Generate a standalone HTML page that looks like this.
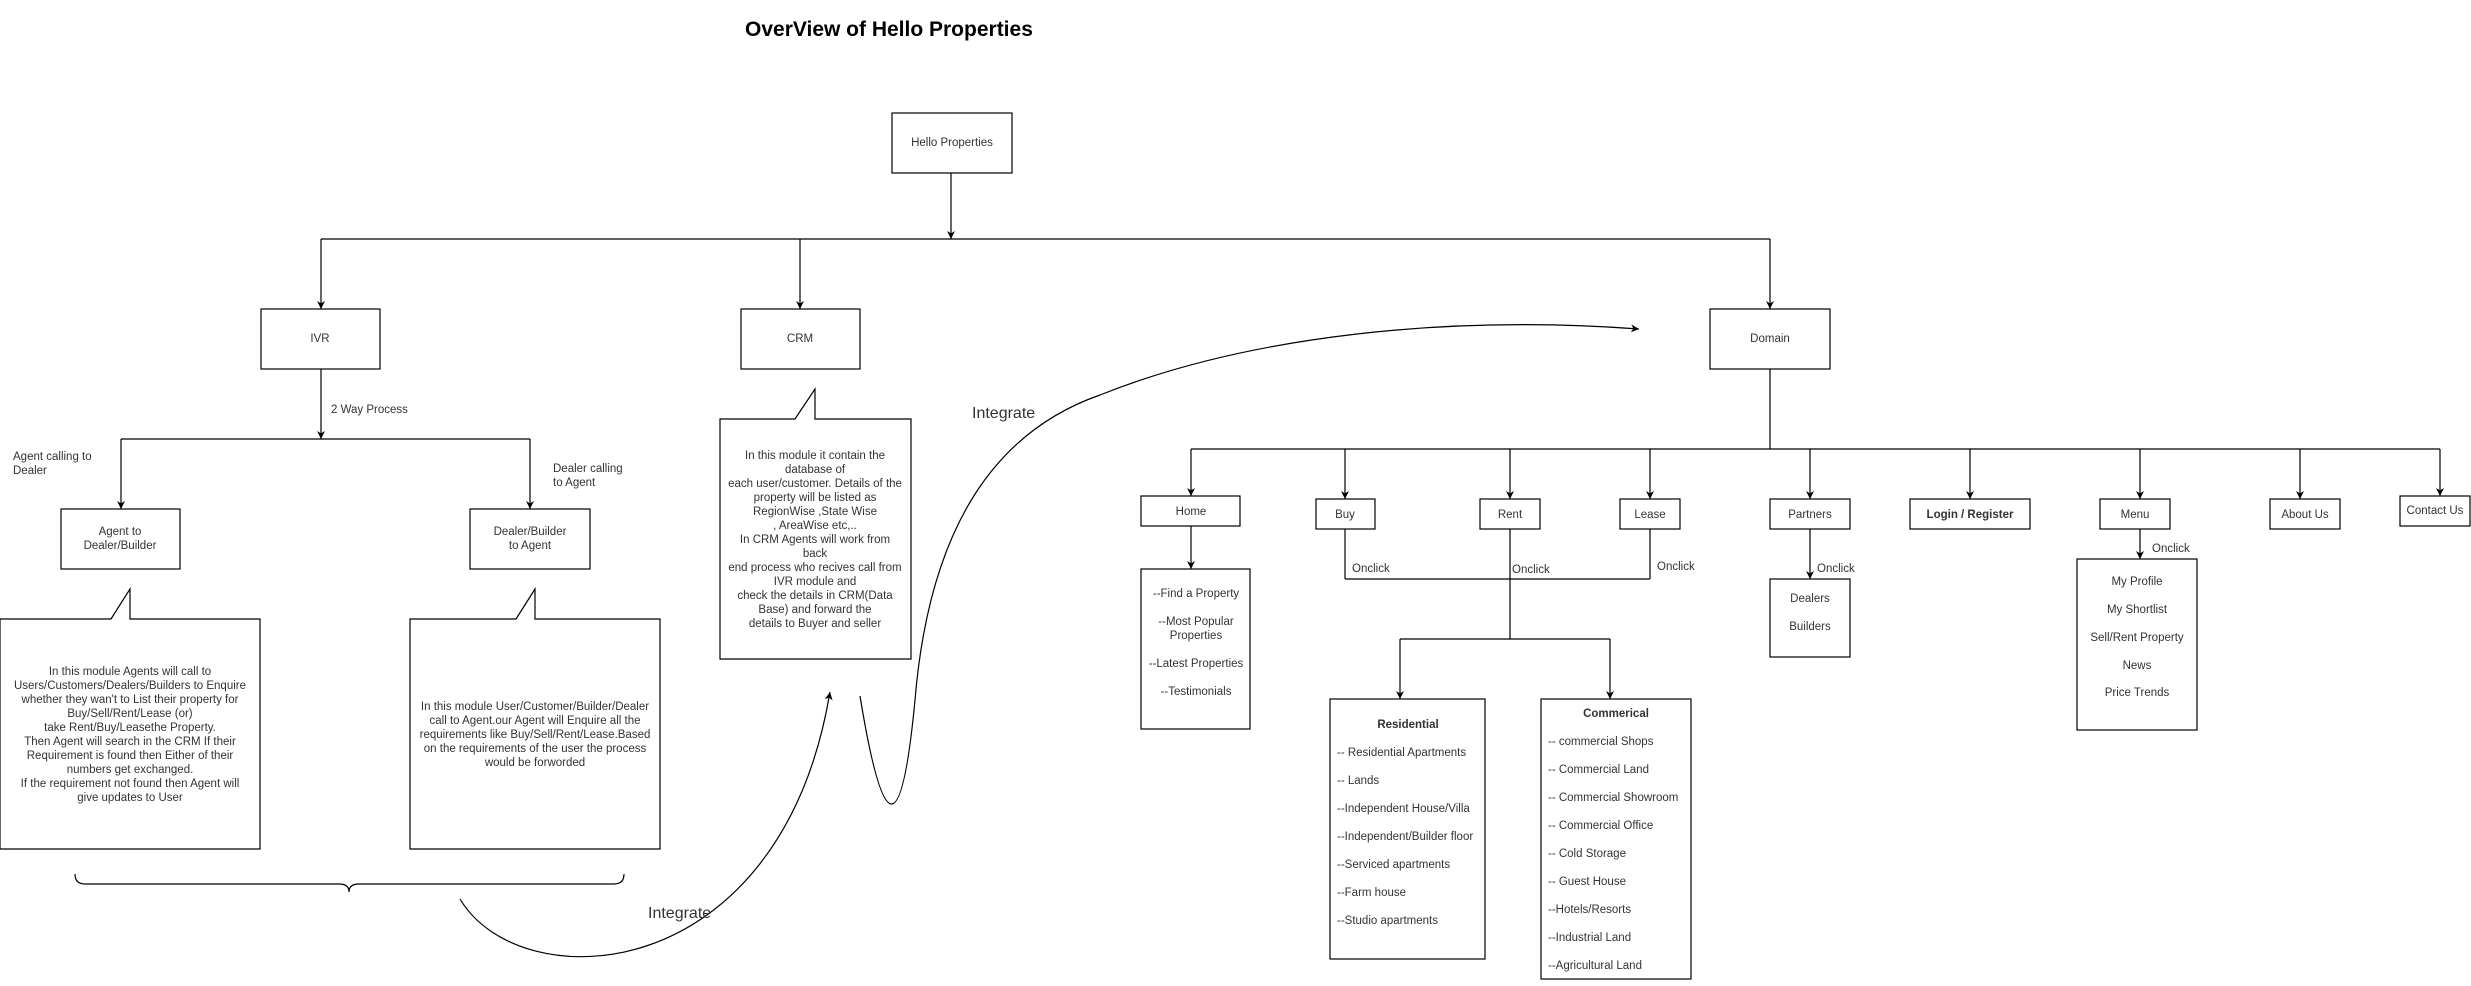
<!DOCTYPE html>
<html><head><meta charset="utf-8"><style>
html,body{margin:0;padding:0;background:#fff;}
svg{display:block;}
text{font-family:"Liberation Sans",Arial,sans-serif;fill:#333;}
</style></head><body>
<svg width="2471" height="986" viewBox="0 0 2471 986" xmlns="http://www.w3.org/2000/svg">
<defs>
<marker id="a" viewBox="0 0 10 10" refX="10" refY="5" markerWidth="8" markerHeight="8" markerUnits="userSpaceOnUse" orient="auto">
<path d="M0,0 L10,5 L0,10 L3,5 z" fill="#000"/>
</marker>
</defs>
<g fill="none" stroke="#000" stroke-width="1.2">
<line x1="951" y1="173" x2="951" y2="239" marker-end="url(#a)"/>
<line x1="321" y1="239" x2="1770" y2="239"/>
<line x1="321" y1="239" x2="321" y2="309" marker-end="url(#a)"/>
<line x1="800" y1="239" x2="800" y2="309" marker-end="url(#a)"/>
<line x1="1770" y1="239" x2="1770" y2="309" marker-end="url(#a)"/>
<rect x="892" y="113" width="120" height="60"/>
<rect x="261" y="309" width="119" height="60"/>
<rect x="741" y="309" width="119" height="60"/>
<rect x="1710" y="309" width="120" height="60"/>
<line x1="321" y1="369" x2="321" y2="439" marker-end="url(#a)"/>
<line x1="121" y1="439" x2="530" y2="439"/>
<line x1="121" y1="439" x2="121" y2="509" marker-end="url(#a)"/>
<line x1="530" y1="439" x2="530" y2="509" marker-end="url(#a)"/>
<rect x="61" y="509" width="119" height="60"/>
<rect x="470" y="509" width="120" height="60"/>
<path d="M0,619 L111,619 L130,589 L130,619 L260,619 L260,849 L0,849 Z"/>
<path d="M410,619 L516,619 L535,589 L535,619 L660,619 L660,849 L410,849 Z"/>
<path d="M720,419 L795,419 L815,389 L815,419 L911,419 L911,659 L720,659 Z"/>
<path d="M75,874 Q75,884 85,884 L339,884 Q349,884 349,892 Q349,884 359,884 L614,884 Q624,884 624,874"/>
<path d="M460,899 C520,1000 780,990 830,692" marker-end="url(#a)"/>
<path d="M860,696 Q895,910 915,700 C930,520 1000,430 1100,395 C1250,335 1450,315 1639,329" marker-end="url(#a)"/>
<line x1="1770" y1="369" x2="1770" y2="449"/>
<line x1="1191" y1="449" x2="2440" y2="449"/>
<line x1="1191" y1="449" x2="1191" y2="496" marker-end="url(#a)"/>
<line x1="1345" y1="449" x2="1345" y2="499" marker-end="url(#a)"/>
<line x1="1510" y1="449" x2="1510" y2="499" marker-end="url(#a)"/>
<line x1="1650" y1="449" x2="1650" y2="499" marker-end="url(#a)"/>
<line x1="1810" y1="449" x2="1810" y2="499" marker-end="url(#a)"/>
<line x1="1970" y1="449" x2="1970" y2="499" marker-end="url(#a)"/>
<line x1="2140" y1="449" x2="2140" y2="499" marker-end="url(#a)"/>
<line x1="2300" y1="449" x2="2300" y2="499" marker-end="url(#a)"/>
<line x1="2440" y1="449" x2="2440" y2="496" marker-end="url(#a)"/>
<rect x="1141" y="496" width="99" height="30"/>
<rect x="1316" y="499" width="59" height="30"/>
<rect x="1480" y="499" width="60" height="30"/>
<rect x="1620" y="499" width="60" height="30"/>
<rect x="1770" y="499" width="80" height="30"/>
<rect x="1910" y="499" width="120" height="30"/>
<rect x="2100" y="499" width="70" height="30"/>
<rect x="2270" y="499" width="70" height="30"/>
<rect x="2400" y="496" width="70" height="30"/>
<line x1="1191" y1="526" x2="1191" y2="569" marker-end="url(#a)"/>
<rect x="1141" y="569" width="109" height="160"/>
<line x1="1345" y1="529" x2="1345" y2="579"/>
<line x1="1650" y1="529" x2="1650" y2="579"/>
<line x1="1345" y1="579" x2="1650" y2="579"/>
<line x1="1510" y1="529" x2="1510" y2="639"/>
<line x1="1400" y1="639" x2="1610" y2="639"/>
<line x1="1400" y1="639" x2="1400" y2="699" marker-end="url(#a)"/>
<line x1="1610" y1="639" x2="1610" y2="699" marker-end="url(#a)"/>
<rect x="1330" y="699" width="155" height="260"/>
<rect x="1541" y="699" width="150" height="280"/>
<line x1="1810" y1="529" x2="1810" y2="579" marker-end="url(#a)"/>
<rect x="1770" y="579" width="80" height="78"/>
<line x1="2140" y1="529" x2="2140" y2="559" marker-end="url(#a)"/>
<rect x="2077" y="559" width="120" height="171"/>
</g>
<g font-size="21" font-weight="bold"><text x="745" y="36" style="fill:#000">OverView of Hello Properties</text></g>
<g font-size="16">
<text x="972" y="418">Integrate</text>
<text x="648" y="918">Integrate</text>
</g>
<g font-size="11.5" dominant-baseline="central">
<text x="331" y="410">2 Way Process</text>
<text x="13" y="457">Agent calling to</text>
<text x="13" y="471">Dealer</text>
<text x="553" y="469">Dealer calling</text>
<text x="553" y="483">to Agent</text>
<text x="1352" y="569">Onclick</text>
<text x="1512" y="570">Onclick</text>
<text x="1657" y="567">Onclick</text>
<text x="1817" y="569">Onclick</text>
<text x="2152" y="549">Onclick</text>
</g>
<g font-size="11.5" text-anchor="middle" dominant-baseline="central">
<text x="952" y="143">Hello Properties</text>
<text x="320" y="339">IVR</text>
<text x="800" y="339">CRM</text>
<text x="1770" y="339">Domain</text>
<text x="120" y="532">Agent to</text>
<text x="120" y="546">Dealer/Builder</text>
<text x="530" y="532">Dealer/Builder</text>
<text x="530" y="546">to Agent</text>
<text x="130" y="672">In this module Agents will call to</text>
<text x="130" y="686">Users/Customers/Dealers/Builders to Enquire</text>
<text x="130" y="700">whether they wan't to  List their property for</text>
<text x="130" y="714">Buy/Sell/Rent/Lease (or)</text>
<text x="130" y="728">take Rent/Buy/Leasethe Property.</text>
<text x="130" y="742">Then  Agent will search in the CRM If their</text>
<text x="130" y="756">Requirement is found then  Either of their</text>
<text x="130" y="770">numbers get exchanged.</text>
<text x="130" y="784">If the requirement not found then Agent will</text>
<text x="130" y="798">give updates to User</text>
<text x="535" y="707">In this module User/Customer/Builder/Dealer</text>
<text x="535" y="721">call to Agent.our Agent will Enquire all the</text>
<text x="535" y="735">requirements like Buy/Sell/Rent/Lease.Based</text>
<text x="535" y="749">on the requirements of the user the process</text>
<text x="535" y="763">would be forworded</text>
<text x="815" y="456">In this module it contain the</text>
<text x="815" y="470">database of</text>
<text x="815" y="484">each user/customer. Details of the</text>
<text x="815" y="498">property will be listed as</text>
<text x="815" y="512">RegionWise ,State Wise</text>
<text x="815" y="526">, AreaWise etc,..</text>
<text x="815" y="540">In CRM Agents will work from</text>
<text x="815" y="554">back</text>
<text x="815" y="568">end process who recives call from</text>
<text x="815" y="582">IVR module and</text>
<text x="815" y="596">check the details in CRM(Data</text>
<text x="815" y="610">Base) and forward the</text>
<text x="815" y="624">details to Buyer and seller</text>
<text x="1191" y="512">Home</text>
<text x="1345" y="515">Buy</text>
<text x="1510" y="515">Rent</text>
<text x="1650" y="515">Lease</text>
<text x="1810" y="515">Partners</text>
<text x="1970" y="515" font-weight="bold">Login / Register</text>
<text x="2135" y="515">Menu</text>
<text x="2305" y="515">About Us</text>
<text x="2435" y="511">Contact Us</text>
<text x="1196" y="594">--Find a Property</text>
<text x="1196" y="622">--Most Popular</text>
<text x="1196" y="636">Properties</text>
<text x="1196" y="664">--Latest Properties</text>
<text x="1196" y="692">--Testimonials</text>
<text x="1810" y="599">Dealers</text>
<text x="1810" y="627">Builders</text>
<text x="2137" y="582">My Profile</text>
<text x="2137" y="610">My Shortlist</text>
<text x="2137" y="638">Sell/Rent Property</text>
<text x="2137" y="666">News</text>
<text x="2137" y="693">Price Trends</text>
<text x="1408" y="725" font-weight="bold">Residential</text>
<text x="1616" y="714" font-weight="bold">Commerical</text>
</g>
<g font-size="11.5" dominant-baseline="central">
<text x="1337" y="753">--  Residential Apartments</text>
<text x="1337" y="781">-- Lands</text>
<text x="1337" y="809">--Independent House/Villa</text>
<text x="1337" y="837">--Independent/Builder floor</text>
<text x="1337" y="865">--Serviced apartments</text>
<text x="1337" y="893">--Farm house</text>
<text x="1337" y="921">--Studio apartments</text>
<text x="1548" y="742">--  commercial Shops</text>
<text x="1548" y="770">--  Commercial Land</text>
<text x="1548" y="798">-- Commercial Showroom</text>
<text x="1548" y="826">-- Commercial Office</text>
<text x="1548" y="854">-- Cold Storage</text>
<text x="1548" y="882">-- Guest House</text>
<text x="1548" y="910">--Hotels/Resorts</text>
<text x="1548" y="938">--Industrial Land</text>
<text x="1548" y="966">--Agricultural Land</text>
</g>
</svg>
</body></html>
